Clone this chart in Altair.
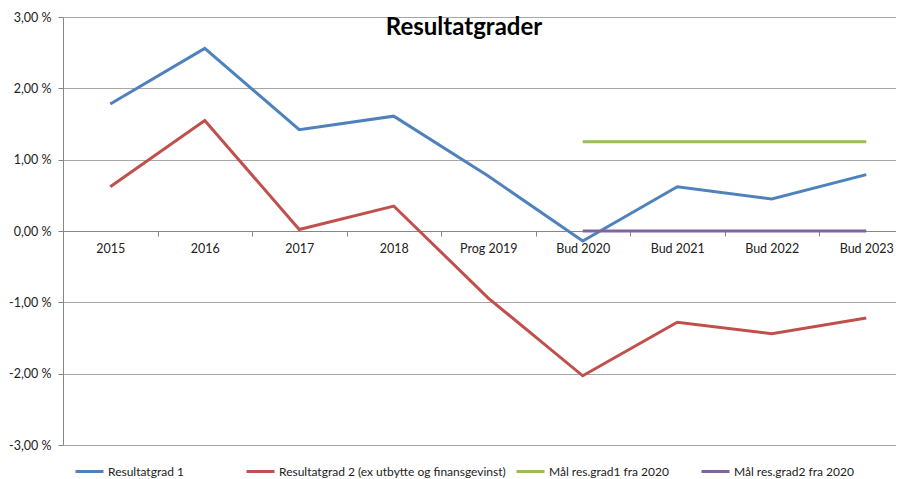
import json
import altair as alt
import pandas as pd

# ---- data ----
categories = ["2015", "2016", "2017", "2018", "Prog 2019",
              "Bud 2020", "Bud 2021", "Bud 2022", "Bud 2023"]
resultatgrad1 = [1.78, 2.56, 1.42, 1.61, 0.77, -0.14, 0.62, 0.45, 0.79]
resultatgrad2 = [0.62, 1.55, 0.02, 0.35, -0.94, -2.03, -1.28, -1.44, -1.22]
maal_categories = ["Bud 2020", "Bud 2021", "Bud 2022", "Bud 2023"]
maal1 = [1.25, 1.25, 1.25, 1.25]
maal2 = [0.00, 0.00, 0.00, 0.00]
series_names = ["Resultatgrad 1",
                "Resultatgrad 2 (ex utbytte og finansgevinst)",
                "Mål res.grad1 fra 2020",
                "Mål res.grad2 fra 2020"]
series_colors = ["#4F81BD", "#C0504D", "#9BBB59", "#8064A2"]
y_ticks = [-3, -2, -1, 0, 1, 2, 3]
title_text = "Resultatgrader"

series_data = [(categories, resultatgrad1), (categories, resultatgrad2),
               (maal_categories, maal1), (maal_categories, maal2)]

FONT = "Lato"
TXT = "#222222"
W, H = 833, 428
STEP = 94.5  # category width in the reference; the plot is cut at the right edge
n = len(categories)
legend_x = [11, 182, 452, 637]

# category index on a linear scale: each category is one unit wide,
# the visible part ends before the last category's right edge
x_scale = alt.Scale(domain=[-0.5, -0.5 + W / STEP], nice=False, zero=False)
y_scale = alt.Scale(domain=[-3, 3], nice=False, zero=False)

y_label_expr = ("(datum.value < 0 ? '-' : '') + "
                "replace(format(abs(datum.value), '.2f'), '.', ',') + ' %'")
x_label_expr = json.dumps(categories) + "[round(datum.value)]"

x_axis_labels = alt.Axis(title=None, orient="bottom", offset=-H / 2, labelAngle=0,
                         values=list(range(n)), labelExpr=x_label_expr,
                         ticks=False, domain=False, grid=False,
                         labelFont=FONT, labelFontSize=12.5, labelColor=TXT,
                         labelPadding=11, labelFlush=False, labelOverlap=False)
x_axis_ticks = alt.Axis(title=None, orient="bottom", offset=-H / 2,
                        values=[i - 0.5 for i in range(n + 1)],
                        labels=False, ticks=True, tickSize=5, tickColor="#868686",
                        domain=True, domainColor="#868686", domainWidth=1, grid=False)
y_axis = alt.Axis(title=None, values=y_ticks, labelExpr=y_label_expr,
                  grid=True, gridColor="#A6A6A6", gridWidth=1,
                  tickSize=5, tickColor="#868686", domainColor="#868686",
                  labelFont=FONT, labelFontSize=12.5, labelColor=TXT,
                  labelPadding=7)
x_axes = [x_axis_ticks, x_axis_labels, None, None]

layers = []
for i, ((cats, vals), name, col) in enumerate(zip(series_data, series_names, series_colors)):
    d = pd.DataFrame({"pos": [categories.index(c) for c in cats], "kategori": cats,
                      "verdi": vals, "serie": [name] * len(cats)})
    layers.append(
        alt.Chart(d).mark_line(strokeWidth=3).encode(
            x=alt.X("pos:Q", scale=x_scale, axis=x_axes[i]),
            y=alt.Y("verdi:Q", scale=y_scale, axis=y_axis),
            color=alt.Color("serie:N",
                            scale=alt.Scale(domain=[name], range=[col]),
                            legend=alt.Legend(title=None, orient="none",
                                              legendX=legend_x[i], legendY=439,
                                              symbolType="stroke", symbolSize=784,
                                              symbolStrokeWidth=3,
                                              labelFont=FONT, labelFontSize=12,
                                              labelColor=TXT, labelLimit=500,
                                              labelOffset=3)),
        )
    )

title = alt.Chart(pd.DataFrame({"t": [title_text]})).mark_text(
    font=FONT, fontSize=24, fontWeight="bold", color="black",
    align="center", baseline="alphabetic"
).encode(text="t:N", x=alt.value(401), y=alt.value(17.5))

chart = alt.layer(*layers, title).resolve_scale(color="independent").resolve_axis(
    x="independent").properties(
    width=W, height=H,
    padding={"left": 55, "top": 9, "right": 0, "bottom": 34},
    autosize=alt.AutoSizeParams(type="none"),
    background="white",
).configure_view(stroke=None)

chart.save("out.html", embed_options={"renderer": "svg", "actions": False})
